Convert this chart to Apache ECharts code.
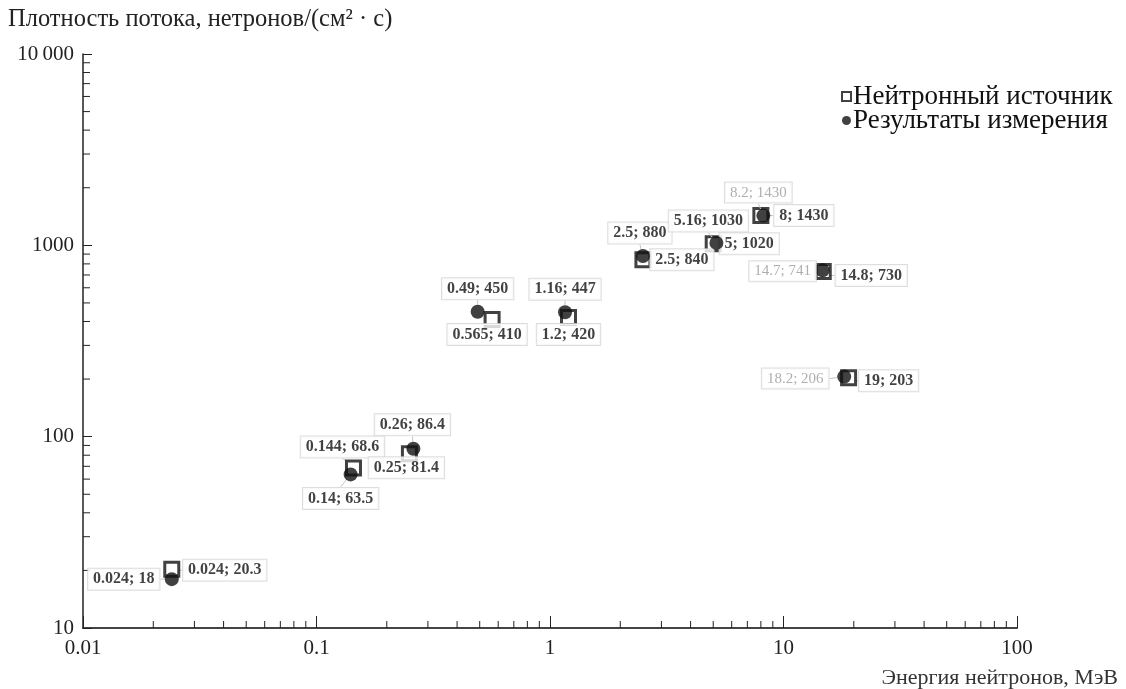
<!DOCTYPE html>
<html>
<head>
<meta charset="utf-8">
<script src="https://cdn.jsdelivr.net/npm/echarts@6/dist/echarts.min.js"></script>
<style>
  html, body { margin: 0; padding: 0; background: #fff; }
  #chart { width: 1126px; height: 689px; }
</style>
</head>
<body>
<div id="chart"></div>
<script>
// источник нейтронов (номинальные значения)
var sourceEnergy = [0.024, 0.144, 0.25, 0.565, 1.2, 2.5, 5, 8, 14.8, 19];
var sourceFlux = [20.3, 68.6, 81.4, 410, 420, 840, 1020, 1430, 730, 203];
// результаты измерений
var measEnergy = [0.024, 0.14, 0.26, 0.49, 1.16, 2.5, 5.16, 8.2, 14.7, 18.2];
var measFlux = [18, 63.5, 86.4, 450, 447, 880, 1030, 1430, 741, 206];
// подписи, которые в оригинале серые
var measGray = [false, false, false, false, false, false, false, true, true, true];

var xTickValues = [0.01, 0.1, 1, 10, 100];
var yTickValues = [10, 100, 1000, 10000];

// сдвиги подписей относительно маркера, px
var sourceLabelShift = [[53, 1], [-11, -21], [-3, 14], [-5, 15], [0, 17], [39, 0], [36, 0], [43, 0], [48, 4], [40, 3]];
var measLabelShift = [[-48, 0], [-10, 24], [-1, -24], [0, -23], [0, -23], [-3, -23], [-8, -22], [-5, -23], [-40, 1], [-49, 2]];

var serif = '"Liberation Serif", "DejaVu Serif", serif';

function pairs(xs, ys) {
    return xs.map(function (x, i) { return [x, ys[i]]; });
}

// промежуточные деления логарифмических осей (2..9 в каждой декаде)
function minorValues(from, to) {
    var out = [];
    for (var d = from; d < to; d *= 10) {
        for (var k = 2; k <= 9; k++) out.push(+(d * k).toPrecision(3));
    }
    return out;
}
var xMinor = minorValues(0.01, 100);
var yMinor = minorValues(10, 10000);

var labelBase = {
    show: true,
    position: 'inside',
    fontFamily: serif,
    fontSize: 16,
    fontWeight: 'bold',
    color: '#111',
    backgroundColor: '#fff',
    borderColor: '#d4d4d4',
    borderWidth: 1,
    padding: [3, 5, 2, 5]
};

function makeData(xs, ys, gray) {
    return pairs(xs, ys).map(function (p, i) {
        var item = {
            value: p,
            label: { formatter: p[0] + '; ' + p[1] }
        };
        if (gray && gray[i]) {
            item.label.color = '#9a9a9a';
            item.label.fontWeight = 'normal';
            item.label.fontSize = 15;
        }
        return item;
    });
}

var myChart = echarts.init(document.getElementById('chart'));
var option = {
    animation: false,
    title: [{
        text: 'Плотность потока, нетронов/(см² · с)',
        left: 3,
        top: 2,
        textStyle: { fontFamily: serif, fontSize: 24.5, fontWeight: 'normal', color: '#222' }
    }, {
        text: 'Энергия нейтронов, МэВ',
        right: 3,
        top: 662,
        textStyle: { fontFamily: serif, fontSize: 22, fontWeight: 'normal', color: '#333' }
    }],
    legend: {
        orient: 'vertical',
        left: 836,
        top: 78,
        itemWidth: 9,
        itemHeight: 9,
        itemGap: -3,
        data: ['Нейтронный источник', 'Результаты измерения'],
        textStyle: { fontFamily: serif, fontSize: 27, color: '#111', padding: [0, 0, 0, -3] }
    },
    grid: {
        left: 83,
        right: 109,
        top: 54,
        bottom: 61
    },
    xAxis: {
        type: 'log',
        logBase: 10,
        min: 0.01,
        max: 100,
        axisLine: { lineStyle: { color: '#444', width: 2 } },
        axisTick: { inside: true, length: 12, lineStyle: { color: '#222' } },
        splitLine: { show: false },
        axisLabel: {
            margin: 10,
            fontFamily: serif,
            fontSize: 21,
            color: '#222',
            formatter: function (v) { return String(+v.toPrecision(3)); }
        }
    },
    yAxis: {
        type: 'log',
        logBase: 10,
        min: 10,
        max: 10000,
        axisLine: { show: true, lineStyle: { color: '#222', width: 1.5 } },
        axisTick: { show: true, inside: true, length: 9, lineStyle: { color: '#222' } },
        splitLine: { show: false },
        axisLabel: {
            margin: 9,
            fontFamily: serif,
            fontSize: 21,
            color: '#222',
            formatter: function (v) {
                var n = Math.round(v);
                return n === 10000 ? '10\u2009000' : String(n);
            }
        }
    },
    series: [{
        name: 'ticks',
        type: 'custom',
        silent: true,
        clip: false,
        data: xMinor.map(function (v) { return [v, 0]; }).concat(yMinor.map(function (v) { return [0, v]; })),
        renderItem: function (params, api) {
            var a = api.value(0), b = api.value(1);
            var p, shape;
            if (b === 0) {
                p = api.coord([a, 10]);
                shape = { x1: p[0], y1: p[1], x2: p[0], y2: p[1] - 7 };
            } else {
                p = api.coord([0.01, b]);
                shape = { x1: p[0], y1: p[1], x2: p[0] + 7, y2: p[1] };
            }
            return { type: 'line', shape: shape, style: { stroke: '#222', lineWidth: 1 } };
        }
    }, {
        name: 'Нейтронный источник',
        type: 'scatter',
        symbol: 'rect',
        symbolSize: 14,
        z: 3,
        itemStyle: { color: '#fff', borderColor: '#111', borderWidth: 3 },
        label: labelBase,
        labelLine: { show: true, lineStyle: { color: '#c4c4c4', width: 1 } },
        labelLayout: function (params) {
            var s = sourceLabelShift[params.dataIndex];
            return { dx: s[0], dy: s[1] };
        },
        data: makeData(sourceEnergy, sourceFlux, null)
    }, {
        name: 'Результаты измерения',
        type: 'scatter',
        symbol: 'circle',
        symbolSize: 14,
        z: 4,
        itemStyle: { color: '#111' },
        label: labelBase,
        labelLine: { show: true, lineStyle: { color: '#c4c4c4', width: 1 } },
        labelLayout: function (params) {
            var s = measLabelShift[params.dataIndex];
            return { dx: s[0], dy: s[1] };
        },
        data: makeData(measEnergy, measFlux, measGray)
    }]
};

myChart.setOption(option);
</script>
</body>
</html>
